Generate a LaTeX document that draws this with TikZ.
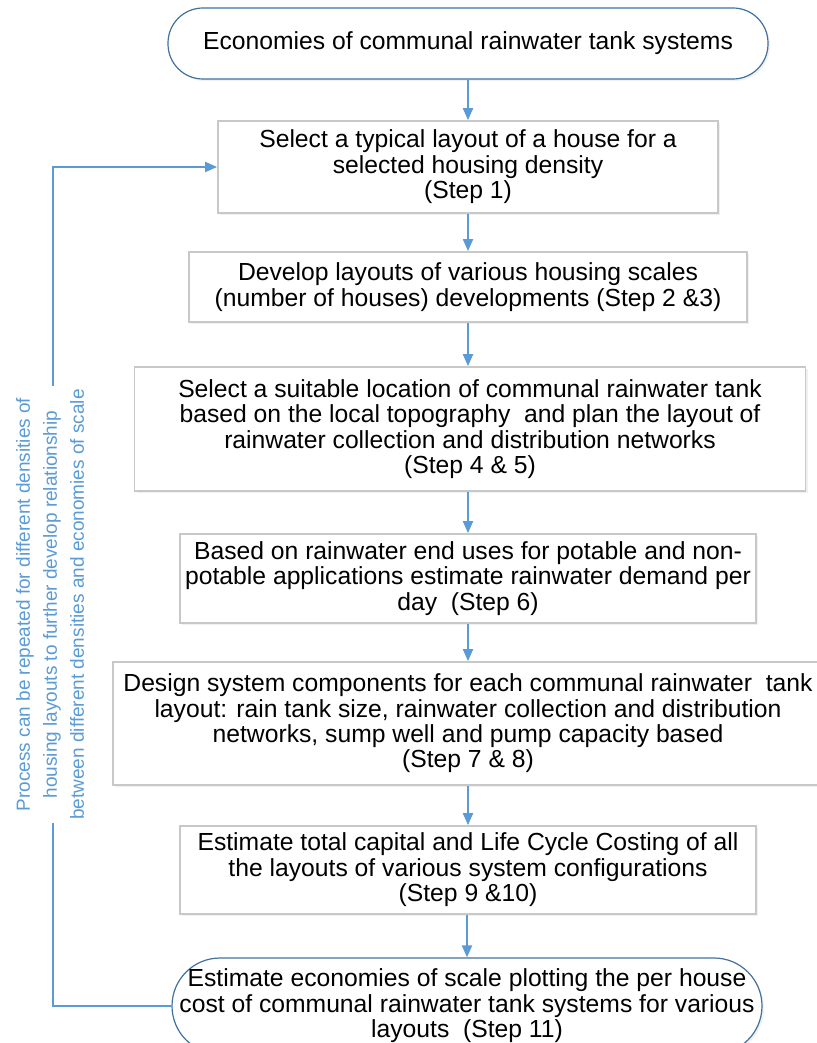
\documentclass[tikz,border=0pt]{standalone}
\usepackage{fontspec}
\setmainfont{Liberation Sans}
\usetikzlibrary{arrows.meta,shadows}
\definecolor{cFlow}{HTML}{5B9BD5}
\definecolor{cTerm}{HTML}{41719C}
\definecolor{cBox}{HTML}{C8C8C8}
\newcommand{\boxfnt}{\fontsize{12.35}{12.7}\selectfont}
\newcommand{\notefnt}{\fontsize{9.5}{13.5}\selectfont}
\tikzset{
  stepbox/.style={rectangle,draw=cBox,line width=.9pt,fill=white,align=center,inner sep=0pt,font=\boxfnt,
    drop shadow={opacity=.12,shadow xshift=1pt,shadow yshift=-1pt}},
  term/.style={stepbox,draw=cTerm,line width=.6pt,rounded corners=#1},
  flow/.style={-{Triangle[length=6pt,width=5pt]},cFlow,line width=1pt},
  note/.style={rotate=90,fill=white,inner sep=1.5pt,align=center,text=cFlow,font=\notefnt},
}

\begin{document}
\begin{tikzpicture}[x=0.5pt,y=-0.5pt]
  \useasboundingbox (0,0) rectangle (816,1043);
  % steps
  \node[term=17.5pt,minimum width=300pt,minimum height=35.5pt] (start) at (468,43.5)
    {Economies of communal rainwater tank systems};
  \node[stepbox,minimum width=250pt,minimum height=46pt] (s1) at (468,167)
    {Select a typical layout of a house for a\\ selected housing density\\ (Step 1)};
  \node[stepbox,minimum width=279pt,minimum height=35pt] (s2) at (468,287)
    {Develop layouts of various housing scales\\ (number of houses) developments (Step 2 \&3)};
  \node[stepbox,minimum width=335.5pt,minimum height=62pt] (s3) at (470,429)
    {Select a suitable location of communal rainwater tank\\ based on the local topography~ and plan the layout of\\ rainwater collection and distribution networks\\ (Step 4 \& 5)};
  \node[stepbox,minimum width=288pt,minimum height=44.5pt] (s4) at (468,578.5)
    {Based on rainwater end uses for potable and non-\\ potable applications estimate rainwater demand per\\ day~ (Step 6)};
  \node[stepbox,minimum width=355pt,minimum height=61.5pt] (s5) at (468,723.5)
    {Design system components for each communal rainwater~ tank\\ layout: rain tank size, rainwater collection and distribution\\ networks, sump well and pump capacity based\\ (Step 7 \& 8)};
  \node[stepbox,minimum width=288pt,minimum height=44pt] (s6) at (468,870)
    {Estimate total capital and Life Cycle Costing of all\\ the layouts of various system configurations\\ (Step 9 \&10)};
  \node[term=24pt,minimum width=295pt,minimum height=48pt] (finish) at (467,1006)
    {Estimate economies of scale plotting the per house\\ cost of communal rainwater tank systems for various\\ layouts~ (Step 11)};
  % main flow
  \draw[flow] (start) -- (s1);
  \draw[flow] (s1) -- (s2);
  \draw[flow] (s2.south) -- (s3.north -| s2.south);
  \draw[flow] (s3.south -| s4.north) -- (s4.north);
  \draw[flow] (s4) -- (s5);
  \draw[flow] (s5) -- (s6);
  \draw[flow] (s6.south -| finish.north) -- (finish.north);
  % repeat loop
  \coordinate (loopx) at (53,0);
  \draw[flow] (finish.west) -- (finish.west -| loopx) |- (s1.west);
  \node[note] (rpt) at (50,604.5)
    {Process can be repeated for different densities of\\ housing layouts to further develop relationship\\ between different densities and economies of scale};
\end{tikzpicture}
\end{document}
